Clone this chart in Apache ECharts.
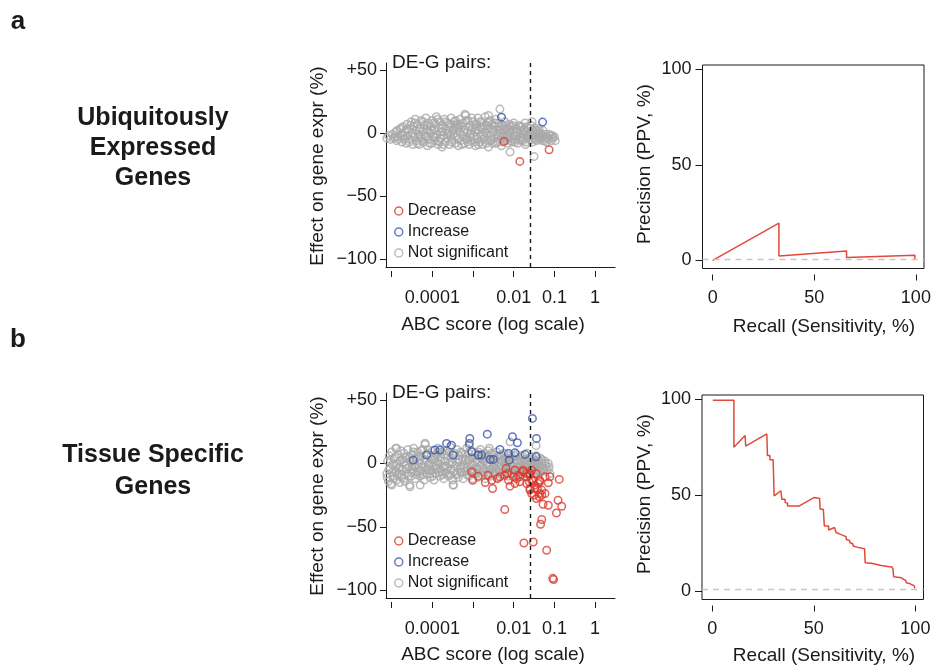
<!DOCTYPE html>
<html lang="en" style="height: 100%">
<head>
  <meta charset="utf-8">
</head>
<body style="height: 100%; margin: 0; background: #fff">
  <div id="container" style="width: 940px; height: 669px"></div>

  <script type="text/javascript" src="https://fastly.jsdelivr.net/npm/echarts@6.0.0/dist/echarts.min.js"></script>
  <script type="text/javascript">
    var dom = document.getElementById('container');
    var myChart = echarts.init(dom, null, { renderer: 'canvas' });

// ABC score is kept as log10(score), effect on expression in %
// a: ubiquitously expressed genes
var ubiqNotSig = [
  [-5.12,-4],[-5.08,-2],[-5.03,-5],[-4.98,-1],[-4.95,-4],[-4.9,1],[-4.88,-6],[-4.85,-3],[-4.8,3],[-4.78,-1],
  [-4.75,-7],[-4.72,5],[-4.7,-4],[-4.68,1],[-4.64,-8],[-4.62,7],[-4.6,-2],[-4.58,3],[-4.55,-5],[-4.52,9],
  [-4.5,0],[-4.48,-9],[-4.46,5],[-4.44,-3],[-4.42,11],[-4.4,2],[-4.38,-6],[-4.36,7],[-4.34,-1],[-4.32,-9],
  [-4.3,4],[-4.28,10],[-4.26,-4],[-4.24,1],[-4.22,-7],[-4.2,6],[-4.18,-2],[-4.16,12],[-4.14,3],[-4.12,-10],
  [-4.1,8],[-4.08,-5],[-4.06,0],[-4.04,5],[-4.02,-8],[-4.0,10],[-3.98,-2],[-3.96,3],[-3.94,-6],[-3.92,7],
  [-3.9,13],[-3.88,-1],[-3.86,-9],[-3.84,4],[-3.82,9],[-3.8,-4],[-3.78,1],[-3.76,-11],[-3.74,6],[-3.72,-2],
  [-3.7,11],[-3.68,-7],[-3.66,3],[-3.64,-4],[-3.62,8],[-3.6,0],[-3.58,-9],[-3.56,5],[-3.54,12],[-3.52,-5],
  [-3.5,2],[-3.48,-1],[-3.46,9],[-3.44,-8],[-3.42,4],[-3.4,-3],[-3.38,7],[-3.36,-10],[-3.34,1],[-3.32,11],
  [-3.3,-6],[-3.28,5],[-3.26,-2],[-3.24,8],[-3.22,-8],[-3.2,3],[-3.18,14],[-3.16,-4],[-3.14,0],[-3.12,10],
  [-3.1,-9],[-3.08,6],[-3.06,-1],[-3.04,-6],[-3.02,4],[-3.0,9],[-2.98,-3],[-2.96,1],[-2.94,-10],[-2.92,7],
  [-2.9,-5],[-2.88,12],[-2.86,2],[-2.84,-7],[-2.82,5],[-2.8,-2],[-2.78,9],[-2.76,-9],[-2.74,3],[-2.72,-4],
  [-2.7,13],[-2.68,0],[-2.66,6],[-2.64,-6],[-2.62,-11],[-2.6,4],[-2.58,10],[-2.56,-2],[-2.54,7],[-2.52,-8],
  [-2.5,1],[-2.48,-4],[-2.46,5],[-2.44,11],[-2.42,-1],[-2.4,-7],[-2.38,3],[-2.36,8],[-2.34,-5],[-2.32,0],
  [-2.3,-10],[-2.28,6],[-2.26,-3],[-2.24,2],[-2.22,9],[-2.2,-6],[-2.18,4],[-2.16,-1],[-2.14,-8],[-2.12,7],
  [-2.1,1],[-2.08,-4],[-2.06,5],[-2.04,-7],[-2.02,2],[-2.0,8],[-1.98,-2],[-1.96,-5],[-1.94,4],[-1.92,0],
  [-1.9,-8],[-1.88,6],[-1.86,-3],[-1.84,2],[-1.82,-6],[-1.8,5],[-1.78,-1],[-1.76,-4],[-1.74,3],[-1.72,8],
  [-1.7,-7],[-1.68,1],[-1.66,-3],[-1.64,4],[-1.62,-5],[-1.6,0],[-1.58,6],[-1.56,-2],[-1.54,-7],[-1.52,2],
  [-1.5,-4],[-1.48,4],[-1.46,-1],[-1.44,-6],[-1.42,1],[-1.4,-3],[-1.38,3],[-1.36,-5],[-1.34,0],[-1.32,-2],
  [-1.3,-6],[-1.28,2],[-1.25,-4],[-1.22,-1],[-1.2,-7],[-1.17,-3],[-1.14,-5],[-1.1,-2],[-1.07,-6],[-1.04,-4],
  [-1.0,-3],[-0.98,-6],
  [-4.3,-3],[-4.1,2],[-3.95,-3],[-3.75,1],[-3.55,-2],[-3.35,4],[-3.15,-5],[-2.95,5],[-2.75,-1],[-2.55,-5],
  [-2.35,2],[-2.15,-3],[-1.95,1],[-3.85,-6],[-3.45,6],[-3.05,2],[-2.65,3],[-2.25,-2],
  [-4.93,-3],[-4.87,2],[-4.83,-5],[-4.77,4],[-4.73,-2],[-4.67,-5],[-4.63,3],[-4.57,-7],[-4.53,6],[-4.47,-2],
  [-4.43,8],[-4.37,-8],[-4.33,3],[-4.27,-6],[-4.23,9],[-4.17,-3],[-4.13,6],[-4.07,-8],[-4.03,2],[-3.97,8],
  [-3.93,-4],[-3.87,11],[-3.83,-7],[-3.77,4],[-3.73,-9],[-3.67,9],[-3.63,-1],[-3.57,7],[-3.53,-7],[-3.47,3],
  [-3.43,10],[-3.37,-5],[-3.33,7],[-3.27,-9],[-3.23,1],[-3.17,10],[-3.13,-7],[-3.07,-3],[-3.03,12],[-2.97,-7],
  [-2.93,3],[-2.87,-9],[-2.83,9],[-2.77,-5],[-2.73,6],[-2.67,-8],[-2.63,9],[-2.57,-6],[-2.53,3],[-2.47,8],
  [-2.43,-8],[-2.37,-2],[-2.33,5],[-2.27,-7],[-2.23,6],[-2.17,-5],[-2.13,3],[-2.07,-6],[-2.03,6],[-1.97,-7],
  [-1.93,3],[-1.87,-5],[-1.83,5],[-1.77,-6],[-1.73,1],[-1.67,5],[-1.63,-2],[-1.57,-5],[-1.53,3],[-1.47,-5],
  [-1.43,2],[-1.37,-1],[-1.33,-4],[-1.27,-2],[-1.23,-6],[-1.13,-1],[-1.05,-2],
  [-2.34,19],[-2.09,-15],[-1.5,-18.5],[-1.71,-9],[-3.2,15],[-2.62,14],[-1.55,9]
];
var ubiqDecrease = [[-2.24,-6.6],[-1.85,-22.4],[-1.13,-13.2]];
var ubiqIncrease = [[-2.30,12.6],[-1.29,8.7]];

// b: tissue specific genes
var tissueNotSig = [
  [-5.12,-8],[-5.1,2],[-5.08,-14],[-5.06,6],[-5.04,-4],[-5.02,-16],[-5.0,9],[-4.98,-1],[-4.96,-10],[-4.94,4],
  [-4.92,-6],[-4.9,12],[-4.88,-13],[-4.86,0],[-4.84,7],[-4.82,-8],[-4.8,-3],[-4.78,10],[-4.76,-11],[-4.74,3],
  [-4.72,-5],[-4.7,8],[-4.68,-14],[-4.66,-1],[-4.64,5],[-4.62,-8],[-4.6,11],[-4.58,-3],[-4.56,-17],[-4.54,2],
  [-4.52,-10],[-4.5,7],[-4.48,-5],[-4.46,12],[-4.44,-1],[-4.42,-12],[-4.4,4],[-4.38,-7],[-4.36,9],[-4.34,-3],
  [-4.32,1],[-4.3,-10],[-4.28,6],[-4.26,-6],[-4.24,11],[-4.22,-2],[-4.2,-13],[-4.18,15],[-4.16,3],[-4.14,-8],
  [-4.12,8],[-4.1,-4],[-4.08,0],[-4.06,-11],[-4.04,5],[-4.02,-6],[-4.0,10],[-3.98,-2],[-3.96,-13],[-3.94,3],
  [-3.92,-8],[-3.9,7],[-3.88,-4],[-3.86,12],[-3.84,0],[-3.82,-10],[-3.8,5],[-3.78,-6],[-3.76,9],[-3.74,-2],
  [-3.72,-12],[-3.7,2],[-3.68,-7],[-3.66,10],[-3.64,-4],[-3.62,6],[-3.6,-10],[-3.58,0],[-3.56,13],[-3.54,-5],
  [-3.52,4],[-3.5,-13],[-3.48,-17],[-3.46,8],[-3.44,-2],[-3.42,-8],[-3.4,11],[-3.38,1],[-3.36,-11],[-3.34,6],
  [-3.32,-4],[-3.3,9],[-3.28,-7],[-3.26,3],[-3.24,-12],[-3.22,-1],[-3.2,7],[-3.18,-6],[-3.16,12],[-3.14,-3],
  [-3.12,2],[-3.1,-10],[-3.08,5],[-3.06,-5],[-3.04,10],[-3.02,-1],[-3.0,-12],[-2.98,4],[-2.96,-7],[-2.94,8],
  [-2.92,-3],[-2.9,1],[-2.88,-11],[-2.86,6],[-2.84,-5],[-2.82,11],[-2.8,-1],[-2.78,-9],[-2.76,3],[-2.74,-4],
  [-2.72,8],[-2.7,-12],[-2.68,0],[-2.66,5],[-2.64,-7],[-2.62,10],[-2.6,-2],[-2.58,-10],[-2.56,3],[-2.54,-5],
  [-2.52,7],[-2.5,-1],[-2.48,-9],[-2.46,4],[-2.44,-4],[-2.42,9],[-2.4,-11],[-2.38,1],[-2.36,-6],[-2.34,6],
  [-2.32,-2],[-2.3,-9],[-2.28,3],[-2.26,-4],[-2.24,8],[-2.22,0],[-2.2,-7],[-2.18,4],[-2.16,-2],[-2.14,-10],
  [-2.12,6],[-2.1,-4],[-2.08,1],[-2.06,-8],[-2.04,5],[-2.02,-2],[-2.0,-6],[-1.98,3],[-1.96,-9],[-1.94,7],
  [-1.92,-3],[-1.9,0],[-1.88,-7],[-1.86,4],[-1.84,-5],[-1.82,2],[-1.8,-9],[-1.78,6],[-1.76,-2],[-1.74,-6],
  [-1.72,3],[-1.7,-4],[-1.68,8],[-1.66,-1],[-1.64,-8],[-1.62,4],[-1.6,-3],[-1.58,1],[-1.56,-6],[-1.54,5],
  [-1.52,-2],[-1.5,-8],[-1.48,2],[-1.46,-4],[-1.44,6],[-1.42,-1],[-1.4,-6],[-1.38,2],[-1.36,-3],[-1.34,4],
  [-1.32,-5],[-1.3,0],[-1.27,-4],[-1.24,2],[-1.2,-2],[-1.17,-5],
  [-4.9,-2],[-4.7,1],[-4.5,-2],[-4.3,3],[-4.1,-1],[-3.9,-1],[-3.7,-3],[-3.5,1],[-3.3,-2],[-3.1,3],
  [-2.9,-4],[-2.7,2],[-2.5,-3],[-2.3,2],[-2.1,-1],[-1.9,-4],[-1.7,0],[-1.5,-1],
  [-5.11,-11],[-5.07,-5],[-5.03,3],[-4.99,-7],[-4.95,-12],[-4.91,5],[-4.87,-9],[-4.83,-4],[-4.79,2],[-4.75,-9],
  [-4.71,-12],[-4.67,4],[-4.63,-4],[-4.59,-10],[-4.55,5],[-4.51,-7],[-4.47,9],[-4.43,-3],[-4.39,-9],[-4.35,5],
  [-4.31,-6],[-4.27,10],[-4.23,-9],[-4.19,2],[-4.15,-5],[-4.11,11],[-4.07,-8],[-4.03,3],[-3.99,-10],[-3.95,6],
  [-3.91,-4],[-3.87,9],[-3.83,-7],[-3.79,2],[-3.75,-9],[-3.71,7],[-3.67,-2],[-3.63,-8],[-3.59,9],[-3.55,-9],
  [-3.51,1],[-3.47,-6],[-3.43,6],[-3.39,-9],[-3.35,3],[-3.31,-7],[-3.27,8],[-3.23,-4],[-3.19,3],[-3.15,-9],
  [-3.11,8],[-3.07,-7],[-3.03,4],[-2.99,-8],[-2.95,1],[-2.91,-8],[-2.87,9],[-2.83,-2],[-2.79,5],[-2.75,-7],
  [-2.71,4],[-2.67,-9],[-2.63,6],[-2.59,-5],[-2.55,8],[-2.51,-7],[-2.47,1],[-2.43,-7],[-2.39,5],[-2.35,-3],
  [-2.31,7],[-2.27,-7],[-2.23,4],[-2.19,-5],[-2.15,2],[-2.11,-7],[-2.07,4],[-2.03,-5],[-1.99,6],[-1.95,-5],
  [-1.91,3],[-1.87,-3],[-1.83,6],[-1.79,-5],[-1.75,2],[-1.71,-7],[-1.67,3],[-1.63,-4],[-1.59,5],[-1.55,-3],
  [-1.51,3],[-1.47,-6],[-1.43,1],[-1.39,-3],[-1.35,-7],[-1.31,3],[-1.25,-6],[-1.22,0],
  [-5.0,-17],[-4.8,-15],[-4.55,-18.4],[-3.49,-17],[-4.3,-17],[-4.18,16],[-4.88,12],[-2.09,17],
  [-1.45,14],[-1.13,-3],[-1.11,-8],[-1.15,0],[-2.6,12],[-3.1,14]
];
var tissueDecrease = [
  [-3.03,-6.6],[-3.01,-13.2],[-2.87,-10],[-2.7,-15],[-2.63,-9.2],[-2.54,-13.2],[-2.52,-19.7],[-2.40,-12],
  [-2.34,-10.5],[-2.22,-9.2],[-2.19,-4.0],[-2.16,-7.9],[-2.13,-13.2],[-2.09,-17.9],[-2.01,-10.5],[-1.97,-5.3],
  [-1.97,-15.8],[-1.93,-12],[-1.89,-9.2],[-1.85,-14.5],[-1.85,-10.5],[-1.77,-6.6],[-1.77,-5.3],[-1.68,-10.5],
  [-1.68,-7.9],[-1.68,-15.8],[-1.62,-14.5],[-1.60,-7.9],[-1.60,-9.2],[-1.60,-19.7],[-1.60,-21],[-1.56,-13.2],
  [-1.56,-5.3],[-1.56,-23.7],[-1.52,-13.2],[-1.50,-25],[-1.48,-19.7],[-1.48,-17.1],[-1.45,-8],[-1.44,-27.6],
  [-1.42,-19.7],[-1.40,-15.8],[-1.37,-26.3],[-1.36,-14.5],[-1.36,-13.2],[-1.36,-23.7],[-1.31,-25],[-1.31,-21],
  [-1.28,-32.1],[-1.23,-10.5],[-1.23,-23.7],[-1.15,-15.3],[-1.15,-32.9],[-1.11,-10.5],[-0.88,-12.6],[-0.91,-29],
  [-0.82,-33.7],[-0.95,-39],[-1.31,-44.2],[-1.34,-47.9],[-2.22,-36.3],[-1.75,-62.7],[-1.52,-61.9],[-1.19,-68.4],
  [-1.04,-90.5],[-1.02,-91.5]
];
var tissueIncrease = [
  [-4.47,2.6],[-4.14,6.6],[-3.94,10.5],[-3.81,10.5],[-3.65,15.8],[-3.53,14.4],[-3.49,6.6],[-3.08,19.7],
  [-3.09,15.8],[-3.03,9.2],[-2.87,6.6],[-2.79,6.6],[-2.65,23.1],[-2.58,3.2],[-2.50,3.2],[-2.34,11.0],
  [-2.13,7.9],[-2.11,2.6],[-2.03,21.0],[-1.97,8.4],[-1.91,16.3],[-1.72,7.1],[-1.54,35.5],[-1.44,19.7],
  [-1.45,5.2]
];

// precision-recall curves: [recall %, precision %]
var ubiqPR = [[0,0],[32.6,19.5],[32.6,2.2],[65.9,4.9],[65.9,1.4],[99.5,2.6],[99.5,0]];
var tissuePR = [
  [0.3,99.5],[10.7,99.5],[10.7,75.1],[16.2,81.2],[16.5,75.6],[26.9,82.0],[27.2,70.7],[28.4,70.7],
  [28.4,68.6],[30.0,68.6],[30.5,49.7],[33.8,52.4],[34.3,48.0],[35.9,48.0],[35.9,46.2],[37.1,46.0],
  [37.1,44.5],[39.5,44.5],[42.9,44.5],[50.3,48.9],[52.9,48.4],[53.1,42.8],[54.7,42.8],[55.2,34.0],
  [57.3,34.0],[57.3,31.9],[60.2,33.2],[61.0,30.6],[63.5,29.5],[64.0,28.8],[65.9,28.5],[66.0,27.0],
  [67.6,26.5],[67.8,25.3],[69.2,24.8],[69.4,23.6],[71.2,23.0],[71.4,22.2],[75.0,22.2],[75.3,14.9],
  [78.3,14.6],[78.5,14.0],[83.2,13.4],[87.3,12.8],[88.5,12.6],[89.0,11.4],[89.3,7.5],[93.1,7.0],
  [93.4,6.0],[95.3,5.5],[95.5,4.4],[97.2,4.0],[97.5,3.0],[99.5,2.8],[99.7,1.5]
];
var ubiqBaseline = 0.4;
var tissueBaseline = 1.2;
var abcCutoffLog = -1.6;

var abcTickExp = [-5, -4, -3, -2, -1, 0];
var abcLabelExp = [-4, -2, -1, 0];
var abcLabelText = ['0.0001', '0.01', '0.1', '1'];
var effectTicks = [-100, -50, 0, 50];
var prTicks = [0, 50, 100];

var FONT = "'Liberation Sans', Arial, Helvetica, sans-serif";
var INK = '#1a1a1a';
var RED = '#d93b2e';
var BLUE = '#3a55a8';
var GRAY = '#a9a9a9';
var LINE_RED = '#e2493b';

function tickStyle() { return { color: INK, width: 1 }; }

function abcAxes(grid) {
  return [
    { gridIndex: grid, type: 'value', position: 'bottom', min: -5.14, max: 0.49,
      axisLine: { show: true, onZero: false, lineStyle: tickStyle() },
      axisTick: { show: false }, axisLabel: { show: false }, splitLine: { show: false } },
    { gridIndex: grid, type: 'value', position: 'bottom', min: -5.14, max: 0.49, offset: 4,
      axisLine: { show: false, onZero: false },
      axisTick: { show: true, length: 6, customValues: abcTickExp, lineStyle: tickStyle() },
      axisLabel: { show: true, customValues: abcLabelExp, margin: 18,
        fontSize: 18, fontFamily: FONT, color: INK,
        formatter: function (v) { return abcLabelText[abcLabelExp.indexOf(Math.round(v))]; } },
      splitLine: { show: false } }
  ];
}
function recallAxis(grid) {
  return { gridIndex: grid, type: 'value', position: 'bottom', min: -5, max: 104, offset: 6,
    axisLine: { show: false, onZero: false },
    axisTick: { show: true, length: 6, customValues: prTicks, lineStyle: tickStyle() },
    axisLabel: { show: true, customValues: prTicks, margin: 15, fontSize: 18, fontFamily: FONT, color: INK },
    splitLine: { show: false } };
}
function effectAxis(grid) {
  return { gridIndex: grid, type: 'value', position: 'left', min: -106, max: 55.5,
    axisLine: { show: true, onZero: false, lineStyle: tickStyle() },
    axisTick: { show: true, length: 6, customValues: effectTicks, lineStyle: tickStyle() },
    axisLabel: { show: true, customValues: effectTicks, margin: 9, fontSize: 18, fontFamily: FONT, color: INK,
      formatter: function (v) { return v > 0 ? '+' + v : (v < 0 ? '\u2212' + (-v) : '0'); } },
    splitLine: { show: false } };
}
function precisionAxis(grid) {
  return { gridIndex: grid, type: 'value', position: 'left', min: -4.3, max: 102.3,
    axisLine: { show: false, onZero: false },
    axisTick: { show: true, length: 7, customValues: prTicks, lineStyle: tickStyle() },
    axisLabel: { show: true, customValues: prTicks, margin: 11, fontSize: 18, fontFamily: FONT, color: INK },
    splitLine: { show: false } };
}

function pts(name, xi, yi, data, color, z) {
  return { name: name, type: 'scatter', xAxisIndex: xi, yAxisIndex: yi, data: data,
    symbol: 'circle', symbolSize: 7.5, z: z, silent: true,
    itemStyle: { color: 'rgba(0,0,0,0)', borderColor: color, borderWidth: 1.5 } };
}
function cutoffLine() {
  return { silent: true, symbol: ['none', 'none'], label: { show: false },
    lineStyle: { color: INK, type: [4, 4], width: 1.4 }, data: [{ xAxis: abcCutoffLog }] };
}
function prLine(xi, yi, data, base) {
  return { type: 'line', xAxisIndex: xi, yAxisIndex: yi, data: data, symbol: 'none', silent: true,
    lineStyle: { color: LINE_RED, width: 1.5 }, z: 3,
    markLine: { silent: true, symbol: ['none', 'none'], label: { show: false },
      lineStyle: { color: '#c6c6c6', type: [6, 5], width: 1.4 }, data: [{ yAxis: base }] } };
}

var legendData = [
  { name: 'Decrease', itemStyle: { color: 'rgba(0,0,0,0)', borderColor: RED, borderWidth: 1.5 } },
  { name: 'Increase', itemStyle: { color: 'rgba(0,0,0,0)', borderColor: BLUE, borderWidth: 1.5 } },
  { name: 'Not significant', itemStyle: { color: 'rgba(0,0,0,0)', borderColor: GRAY, borderWidth: 1.5 } }
];
function legendAt(top) {
  return { left: 389, top: top, orient: 'vertical', icon: 'circle', itemWidth: 8, itemHeight: 8,
    itemGap: 5, selectedMode: false, data: legendData,
    textStyle: { fontSize: 16, fontFamily: FONT, color: INK } };
}

function txt(x, y, text, size, opts) {
  opts = opts || {};
  return { type: 'text', x: x, y: y, rotation: opts.rot || 0, silent: true,
    style: { text: text, fill: INK, font: (opts.bold ? 'bold ' : '') + size + 'px ' + FONT,
      align: opts.align || 'center', verticalAlign: 'middle', lineHeight: opts.lh || size } };
}

var gDecA = pts('Decrease', 0, 0, ubiqDecrease, RED, 3);
gDecA.markLine = cutoffLine();
var gDecB = pts('Decrease', 2, 1, tissueDecrease, RED, 3);
gDecB.markLine = cutoffLine();

var option = {
  animation: false,
  backgroundColor: '#fff',
  grid: [
    { left: 386, top: 63, width: 229, height: 204 },
    { left: 386, top: 393, width: 229, height: 205 },
    { left: 702.5, top: 65, width: 221.5, height: 203.5, show: true, borderColor: INK, borderWidth: 1 },
    { left: 702, top: 395, width: 221.5, height: 204.5, show: true, borderColor: INK, borderWidth: 1 }
  ],
  xAxis: abcAxes(0).concat(abcAxes(1), [recallAxis(2), recallAxis(3)]),
  yAxis: [effectAxis(0), effectAxis(1), precisionAxis(2), precisionAxis(3)],
  legend: [legendAt(198), legendAt(528)],
  series: [
    pts('Not significant', 0, 0, ubiqNotSig, GRAY, 2),
    gDecA,
    pts('Increase', 0, 0, ubiqIncrease, BLUE, 3),
    pts('Not significant', 2, 1, tissueNotSig, GRAY, 2),
    gDecB,
    pts('Increase', 2, 1, tissueIncrease, BLUE, 3),
    prLine(4, 2, ubiqPR, ubiqBaseline),
    prLine(5, 3, tissuePR, tissueBaseline)
  ],
  graphic: [
    txt(18, 22, 'a', 26, { bold: true }),
    txt(18, 340, 'b', 26, { bold: true }),
    txt(153, 148, 'Ubiquitously\nExpressed\nGenes', 25, { bold: true, lh: 30 }),
    txt(153, 471, 'Tissue Specific\nGenes', 25, { bold: true, lh: 32 }),
    txt(392, 63, 'DE-G pairs:', 19, { align: 'left' }),
    txt(392, 393, 'DE-G pairs:', 19, { align: 'left' }),
    txt(318, 166, 'Effect on gene expr (%)', 19, { rot: Math.PI / 2 }),
    txt(318, 496, 'Effect on gene expr (%)', 19, { rot: Math.PI / 2 }),
    txt(493, 325, 'ABC score (log scale)', 19),
    txt(493, 655, 'ABC score (log scale)', 19),
    txt(645, 164, 'Precision (PPV, %)', 19, { rot: Math.PI / 2 }),
    txt(645, 494, 'Precision (PPV, %)', 19, { rot: Math.PI / 2 }),
    txt(824, 327, 'Recall (Sensitivity, %)', 19),
    txt(824, 656, 'Recall (Sensitivity, %)', 19)
  ]
};

    myChart.setOption(option);
    window.addEventListener('resize', myChart.resize);
  </script>
</body>
</html>
